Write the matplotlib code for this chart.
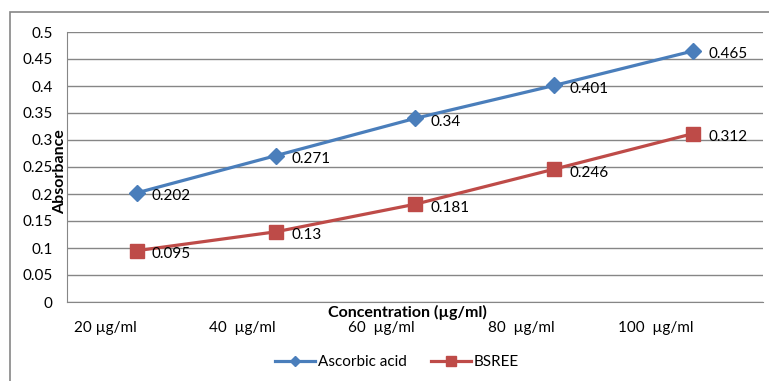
import matplotlib.pyplot as plt
from matplotlib.patches import Rectangle

# datos de absorbancia por concentración
concentraciones = ["20 µg/ml", "40  µg/ml", "60  µg/ml", "80  µg/ml", "100  µg/ml"]
acido_ascorbico = [0.202, 0.271, 0.34, 0.401, 0.465]
bsree = [0.095, 0.13, 0.181, 0.246, 0.312]

azul = "#4A7EBB"
rojo = "#BE4B48"
gris = "#868686"

plt.rcParams["font.family"] = ["Lato", "DejaVu Sans"]

fig = plt.figure(figsize=(7.69, 3.81), dpi=100)
ax = fig.add_axes([67 / 769, 1 - 302 / 381, (763 - 67) / 769, (302 - 32) / 381])

# marco exterior del gráfico
fig.patches.append(Rectangle((10 / 769, -0.5), 2, 1.5 - 12 / 381, transform=fig.transFigure,
                             fill=False, edgecolor=gris, linewidth=1.2))

x = list(range(len(concentraciones)))
ax.plot(x, acido_ascorbico, color=azul, lw=2.3, marker="D", ms=8, label="Ascorbic acid")
ax.plot(x, bsree, color=rojo, lw=2.3, marker="s", ms=9.5, label="BSREE")

# etiquetas con el valor de cada punto
for serie in (acido_ascorbico, bsree):
    for xi, v in zip(x, serie):
        ax.annotate(f"{v:g}", (xi, v), xytext=(11, -2.5), textcoords="offset points",
                    ha="left", va="center", fontsize=11, color="black")

ax.set_xlim(-0.5, len(x) - 0.5)
ax.set_ylim(0, 0.5)
ax.set_yticks([i * 0.05 for i in range(11)])
ax.set_yticklabels(["0", "0.05", "0.1", "0.15", "0.2", "0.25", "0.3", "0.35", "0.4", "0.45", "0.5"],
                   fontsize=11)
ax.set_xticks(x)
ax.set_xticklabels(concentraciones, fontsize=11, ha="right")
ax.tick_params(axis="both", length=0)
ax.tick_params(axis="y", pad=10.5)
ax.tick_params(axis="x", pad=14)
for etiqueta in ax.get_xticklabels():
    etiqueta.set_x(etiqueta.get_position()[0])

ax.grid(axis="y", color=gris, lw=1)
ax.set_axisbelow(True)
for lado in ("top", "right"):
    ax.spines[lado].set_visible(False)
ax.spines["left"].set_color(gris)
ax.spines["bottom"].set_color(gris)

fig.text(407 / 769, 1 - 312 / 381, "Concentration (µg/ml)", ha="center", va="center",
         fontsize=11.5, fontweight="bold")
fig.text(60 / 769, 1 - 172 / 381, "Absorbance", ha="center", va="center", rotation=90,
         fontsize=11.5, fontweight="bold")

fig.legend(loc="center", bbox_to_anchor=(397 / 769, 1 - 362 / 381), ncol=2, frameon=False,
           fontsize=11, handlelength=2.6, columnspacing=1.6, handletextpad=0.2, markerscale=0.7)

plt.savefig("out.png", dpi=100)
